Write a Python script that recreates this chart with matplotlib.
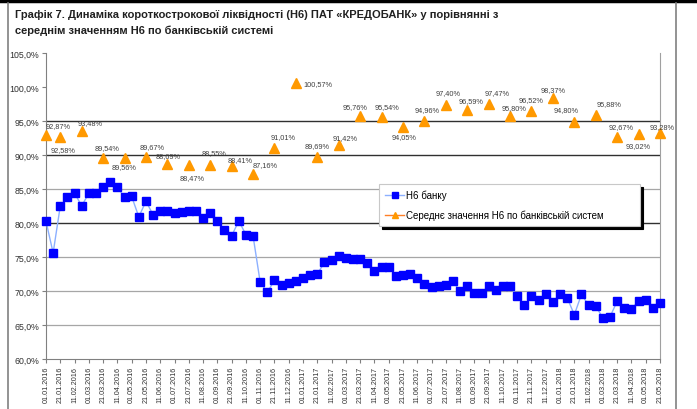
import matplotlib
matplotlib.use('Agg')
import matplotlib.pyplot as plt
from matplotlib.lines import Line2D
import numpy as np

# ---------------- data ----------------
tick_labels = ["01.01.2016", "21.01.2016", "11.02.2016", "01.03.2016", "21.03.2016", "11.04.2016",
               "01.05.2016", "21.05.2016", "11.06.2016", "01.07.2016", "21.07.2016", "11.08.2016",
               "01.09.2016", "21.09.2016", "11.10.2016", "01.11.2016", "21.11.2016", "11.12.2016",
               "01.01.2017", "21.01.2017", "11.02.2017", "01.03.2017", "21.03.2017", "11.04.2017",
               "01.05.2017", "21.05.2017", "11.06.2017", "01.07.2017", "21.07.2017", "11.08.2017",
               "01.09.2017", "21.09.2017", "11.10.2017", "01.11.2017", "21.11.2017", "11.12.2017",
               "01.01.2018", "21.01.2018", "11.02.2018", "01.03.2018", "21.03.2018", "11.04.2018",
               "01.05.2018", "21.05.2018"]

bank_h6 = [80.25, 75.6, 82.5, 83.8, 84.4, 82.5, 84.4, 84.4, 85.25, 86.0,
           85.25, 83.8, 83.9, 80.9, 83.2, 81.2, 81.7, 81.8, 81.4, 81.6,
           81.7, 81.7, 80.7, 81.4, 80.25, 79.0, 78.1, 80.3, 78.3, 78.1,
           71.3, 69.8, 71.6, 70.9, 71.2, 71.4, 71.9, 72.4, 72.5, 74.2,
           74.6, 75.1, 74.8, 74.7, 74.7, 74.1, 73.0, 73.6, 73.6, 72.2,
           72.35, 72.5, 71.9, 71.0, 70.6, 70.8, 70.9, 71.4, 69.95, 70.7,
           69.7, 69.65, 70.8, 70.2, 70.7, 70.7, 69.2, 67.9, 69.2, 68.7,
           69.5, 68.4, 69.5, 69.0, 66.5, 69.5, 67.9, 67.8, 66.0, 66.2,
           68.5, 67.5, 67.35, 68.5, 68.7, 67.5, 68.3]

system_idx = [0, 2, 5, 8, 11, 14, 17, 20, 23, 26, 29, 32, 35, 38, 41, 44,
              47, 50, 53, 56, 59, 62, 65, 68, 71, 74, 77, 80, 83, 86]
system_h6 = [92.87, 92.58, 93.48, 89.54, 89.56, 89.67, 88.69, 88.47, 88.55, 88.41,
             87.16, 91.01, 100.57, 89.69, 91.42, 95.76, 95.54, 94.05, 94.96, 97.40,
             96.59, 97.47, 95.80, 96.52, 98.37, 94.80, 95.88, 92.67, 93.02, 93.28]

# label offsets in pixels (dx, dy)
label_offsets = [(12, 10), (3, -12), (8, 9), (4, 11), (0, -9), (6, 11), (1, 8), (3, -12),
                 (4, 12), (8, 6), (12, 10), (9, 12), (22, 0), (0, 12), (6, 8), (-5, 9),
                 (5, 11), (1, -9), (3, 12), (2, 12), (4, 10), (8, 12), (4, 8), (0, 11),
                 (0, 9), (-8, 13), (13, 11), (4, 10), (0, -11), (2, 6)]

title_lines = ["Графік 7. Динаміка короткострокової ліквідності (Н6) ПАТ «КРЕДОБАНК» у порівнянні з",
               "середнім значенням Н6 по банківській системі"]
legend_labels = ["Н6 банку", "Середнє значення Н6 по банківській систем"]

# ---------------- plot ----------------
plt.rcParams['font.family'] = ['Liberation Sans', 'DejaVu Sans']

W, H = 697, 410
fig = plt.figure(figsize=(W / 100, H / 100), dpi=100)
ax = fig.add_axes([46 / W, 1 - 360 / H, (660 - 46) / W, (360 - 54) / H])

n = len(bank_h6)
x = np.arange(n)

# gridlines
for v in [65, 70, 75, 85]:
    ax.axhline(v, color='#a6a6a6', lw=0.9, zorder=1)
for v in [80, 90, 95]:
    ax.axhline(v, color='#303030', lw=1.0, zorder=1)

ax.plot(x, bank_h6, color='#8cb0ff', lw=1.0, marker='s', markersize=5.2,
        markerfacecolor='#0000ff', markeredgecolor='#0000ff', zorder=3, clip_on=False)

sys_full = np.full(n, np.nan)
for i, v in zip(system_idx, system_h6):
    sys_full[i] = v
ax.plot(x, sys_full, color='#ff9900', lw=1.0, marker='^', markersize=7,
        markerfacecolor='#ff9900', markeredgecolor='#ff9900', zorder=3, clip_on=False)

for i, v, (dx, dy) in zip(system_idx, system_h6, label_offsets):
    txt = f"{v:.2f}%".replace('.', ',')
    ax.annotate(txt, (i, v), xytext=(dx, dy), textcoords='offset pixels',
                ha='center', va='center', fontsize=5.3, color='#404040', zorder=4,
                annotation_clip=False)

ax.set_xlim(0, n - 1)
ax.set_ylim(60, 105)
yt = [60, 65, 70, 75, 80, 85, 90, 95, 100, 105]
ax.set_yticks(yt)
ax.set_yticklabels([f"{v:.1f}%".replace('.', ',') for v in yt], fontsize=6.3, color='#303030')
ax.set_xticks(np.arange(0, n, 2))
ax.set_xticklabels(tick_labels, rotation=90, fontsize=5.2, color='#303030')
ax.tick_params(axis='both', length=3, width=0.8, color='#808080', pad=2)

ax.spines['top'].set_visible(False)
ax.spines['left'].set_color('#808080')
ax.spines['bottom'].set_color('#808080')
ax.spines['right'].set_color('#a0a0a0')

handles = [Line2D([], [], color='#8cb0ff', lw=1.0, marker='s', markersize=4.5,
                  markerfacecolor='#0000ff', markeredgecolor='#0000ff'),
           Line2D([], [], color='#ff7f27', lw=1.0, marker='^', markersize=4.5,
                  markerfacecolor='#ff9900', markeredgecolor='#ff9900')]
leg = ax.legend(handles, legend_labels, loc='upper left',
                bbox_to_anchor=((379 - 46) / 614, (360 - 228) / 306, (640 - 379) / 614, (228 - 185) / 306),
                mode='expand', fontsize=7, frameon=True, fancybox=False,
                shadow={'color': 'black', 'alpha': 1.0},
                handlelength=2.0, handletextpad=0.2, labelspacing=0.95, borderpad=0.6,
                borderaxespad=0)
leg.get_frame().set_edgecolor('#c8c8c8')
leg.get_frame().set_linewidth(0.8)
leg.set_zorder(5)

# title
fig.text(15 / W, 1 - 15 / H, title_lines[0], fontsize=8, fontweight='bold', color='#202020',
         ha='left', va='center')
fig.text(15 / W, 1 - 31 / H, title_lines[1], fontsize=8, fontweight='bold', color='#202020',
         ha='left', va='center')

# outer frame
fig.add_artist(Line2D([0, 1], [1 - 2 / H, 1 - 2 / H], color='black', lw=2.5, transform=fig.transFigure))
fig.add_artist(Line2D([8 / W, 8 / W], [0, 1 - 4 / H], color='#808080', lw=1.2, transform=fig.transFigure))
fig.add_artist(Line2D([676 / W, 676 / W], [0, 1 - 4 / H], color='#808080', lw=1.2, transform=fig.transFigure))

fig.savefig('out.png', dpi=100)
